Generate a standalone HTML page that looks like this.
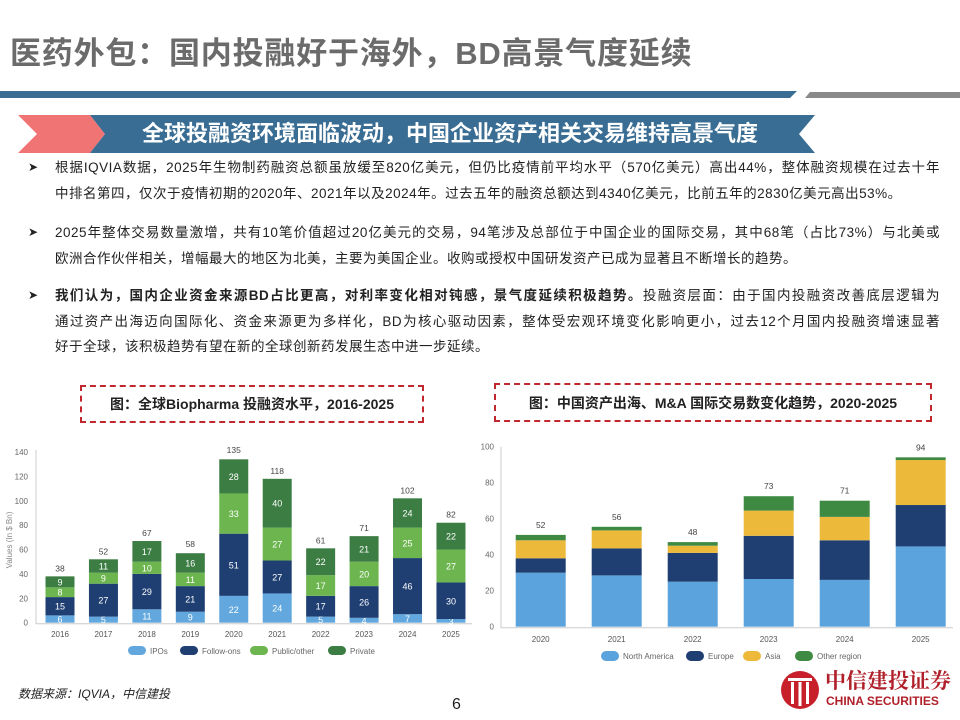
<!DOCTYPE html>
<html><head><meta charset="utf-8">
<style>
body{margin:0;width:960px;height:720px;background:#fff;overflow:hidden;position:relative;font-family:"Liberation Sans","Noto Sans CJK SC",sans-serif;}
.abs{position:absolute;}
.title{left:10px;top:28px;font-size:31px;font-weight:bold;color:#6b6b6b;letter-spacing:0.8px;}
.para{left:55px;font-size:13.5px;color:#222;line-height:25.5px;width:885px;letter-spacing:0.5px;}
.para div{white-space:nowrap;}
.para .j{text-align:justify;text-align-last:justify;}
.arrow{left:28px;font-size:12px;color:#222;}
.cap{border:2px dashed #c0282d;font-size:14px;font-weight:bold;color:#222;display:flex;align-items:center;justify-content:center;box-sizing:border-box;}
</style></head><body>
<div class="abs title">医药外包：国内投融好于海外，BD高景气度延续</div>
<svg class="abs" style="left:0;top:0" width="960" height="160">
<polygon points="0,91 797,91 790,98 0,98" fill="#3a6d93"/>
<polygon points="810,92 960,92 960,98 805,98" fill="#8a8a8a"/>
<polygon points="18,115 90,115 105,134 90,153 18,153 37,134" fill="#f07474"/>
<polygon points="90,115 815,115 799,134 815,153 90,153 105,134" fill="#3a6d93"/>
</svg>
<div class="abs" style="left:105px;top:117px;width:690px;text-align:center;font-size:22px;font-weight:bold;color:#fff;line-height:34px">全球投融资环境面临波动，中国企业资产相关交易维持高景气度</div>

<div class="abs arrow" style="top:160px">➤</div>
<div class="abs para" style="top:155px"><div class="j">根据IQVIA数据，2025年生物制药融资总额虽放缓至820亿美元，但仍比疫情前平均水平（570亿美元）高出44%，整体融资规模在过去十年</div><div>中排名第四，仅次于疫情初期的2020年、2021年以及2024年。过去五年的融资总额达到4340亿美元，比前五年的2830亿美元高出53%。</div></div>
<div class="abs arrow" style="top:225px">➤</div>
<div class="abs para" style="top:220px"><div class="j">2025年整体交易数量激增，共有10笔价值超过20亿美元的交易，94笔涉及总部位于中国企业的国际交易，其中68笔（占比73%）与北美或</div><div>欧洲合作伙伴相关，增幅最大的地区为北美，主要为美国企业。收购或授权中国研发资产已成为显著且不断增长的趋势。</div></div>
<div class="abs arrow" style="top:288px">➤</div>
<div class="abs para" style="top:283px"><div class="j"><b>我们认为，国内企业资金来源BD占比更高，对利率变化相对钝感，景气度延续积极趋势。</b>投融资层面：由于国内投融资改善底层逻辑为</div><div class="j">通过资产出海迈向国际化、资金来源更为多样化，BD为核心驱动因素，整体受宏观环境变化影响更小，过去12个月国内投融资增速显著</div><div>好于全球，该积极趋势有望在新的全球创新药发展生态中进一步延续。</div></div>

<div class="abs cap" style="left:80px;top:385px;width:344px;height:38px">图：全球Biopharma 投融资水平，2016-2025</div>
<div class="abs cap" style="left:494px;top:383px;width:438px;height:39px">图：中国资产出海、M&amp;A 国际交易数变化趋势，2020-2025</div>

<svg id="c1" class="abs" style="left:0;top:440px" width="480" height="225"></svg>
<svg id="c2" class="abs" style="left:480px;top:440px" width="480" height="230"></svg>

<div class="abs" style="left:18px;top:685px;font-size:12px;font-style:italic;color:#222">数据来源：IQVIA，中信建投</div>
<div class="abs" style="left:452px;top:696px;font-size:16px;color:#222">6</div>
<svg class="abs" style="left:780px;top:668px" width="40" height="44">
<circle cx="20" cy="22" r="19" fill="#c8202a"/><rect x="8" y="10" width="24" height="3" fill="#fff"/><rect x="11" y="14" width="3" height="22" fill="#fff"/><rect x="18.5" y="14" width="3" height="24" fill="#fff"/><rect x="26" y="14" width="3" height="22" fill="#fff"/>
</svg>
<div class="abs" style="left:825px;top:668px;font-size:21px;font-weight:bold;color:#b0202a;font-family:'Noto Serif CJK SC',serif;line-height:24px">中信建投证券</div>
<div class="abs" style="left:826px;top:694px;font-size:12px;font-weight:bold;color:#b0202a;letter-spacing:0px">CHINA SECURITIES</div>

<script>
const NS='http://www.w3.org/2000/svg';
function mk(p,tag,a,txt){const e=document.createElementNS(NS,tag);for(const k in a)e.setAttribute(k,a[k]);if(txt!==undefined)e.textContent=txt;p.appendChild(e);return e;}

// Chart 1 data
const years1=['2016','2017','2018','2019','2020','2021','2022','2023','2024','2025'];
const ipos=[6,5,11,9,22,24,5,4,7,3];
const followons=[15,27,29,21,51,27,17,26,46,30];
const publicOther=[8,9,10,11,33,27,17,20,25,27];
const privateV=[9,11,17,16,28,40,22,21,24,22];
const totals1=[38,52,67,58,135,118,61,71,102,82];
const ticks1=[0,20,40,60,80,100,120,140];
const series1Names=['IPOs','Follow-ons','Public/other','Private'];

// Chart 2 data
const years2=['2020','2021','2022','2023','2024','2025'];
const northAmerica=[30,28.5,25,26.5,26,44.6];
const europe=[8,15,16,24,22,23];
const asia=[10,10,4,14,13,25];
const otherRegion=[3,2,2,8,9,1.5];
const totals2=[52,56,48,73,71,94];
const ticks2=[0,20,40,60,80,100];
const series2Names=['North America','Europe','Asia','Other region'];

(function(){
 const s=document.getElementById('c1');
 const y0=182.7,k=170.7/140,x0=60,dx=43.44,bw=29;
 const Y=v=>y0-v*k, X=i=>x0+i*dx;
 const cols=['#62a8de','#1f3f73','#6cb54f','#3c7d44'];
 const data=[ipos,followons,publicOther,privateV];
 const t=mk(s,'text',{x:12,y:100,'font-size':8,fill:'#888','text-anchor':'middle',transform:'rotate(-90 12 100)'},'Values (In $ Bn)');
 
 ticks1.forEach(v=>{const e=mk(s,'text',{x:28,y:Y(v)+3,'font-size':8,fill:'#666','text-anchor':'end'},v);});
 mk(s,'path',{d:`M36,${Y(140)-2} V${y0+1} H472`,stroke:'#ccc',fill:'none','stroke-width':1});
 years1.forEach((yr,i)=>{
  let acc=0;
  data.forEach((arr,j)=>{
   const v=arr[i];
   const r=mk(s,'rect',{x:X(i)-bw/2,y:Y(acc+v),width:bw,height:v*k,fill:cols[j]});
   
   
   const l=mk(s,'text',{x:X(i),y:Y(acc+v/2)+3.5,'font-size':9,fill:'#fff','text-anchor':'middle'},v);
   
   acc+=v;
  });
  const tl=mk(s,'text',{x:X(i),y:Y(totals1[i])-5,'font-size':8.5,fill:'#444','text-anchor':'middle'},totals1[i]);
  
  const xl=mk(s,'text',{x:X(i),y:197,'font-size':8,fill:'#555','text-anchor':'middle'},yr);
  
 });
 const lx=[128,180,250,328];
 series1Names.forEach((n,j)=>{
  const r=mk(s,'rect',{x:lx[j],y:206,width:18,height:9,rx:4.5,fill:cols[j]});
  
  const e=mk(s,'text',{x:lx[j]+22,y:214,'font-size':8,fill:'#666'},n);
  
 });
})();

(function(){
 const s=document.getElementById('c2');
 const y0=186.7,k=1.8,x0=60.7,dx=76,bw=50;
 const Y=v=>y0-v*k, X=i=>x0+i*dx;
 const cols=['#5ba3dc','#1f3f73','#ecb93b','#3f8a43'];
 const data=[northAmerica,europe,asia,otherRegion];
 ticks2.forEach(v=>{const e=mk(s,'text',{x:14,y:Y(v)+3,'font-size':8,fill:'#666','text-anchor':'end'},v);});
 mk(s,'path',{d:`M21,${Y(100)} V${y0+1} H473`,stroke:'#ccc',fill:'none','stroke-width':1});
 years2.forEach((yr,i)=>{
  let acc=0;
  data.forEach((arr,j)=>{
   const v=arr[i];
   const r=mk(s,'rect',{x:X(i)-bw/2,y:Y(acc+v),width:bw,height:v*k,fill:cols[j]});
   
   
   acc+=v;
  });
  const tl=mk(s,'text',{x:X(i),y:Y(acc)-7,'font-size':8.5,fill:'#444','text-anchor':'middle'},totals2[i]);
  
  const xl=mk(s,'text',{x:X(i),y:202,'font-size':8,fill:'#555','text-anchor':'middle'},yr);
  
 });
 const lx=[121,206,263,315];
 series2Names.forEach((n,j)=>{
  const r=mk(s,'rect',{x:lx[j],y:211,width:18,height:10,rx:5,fill:cols[j]});
  
  const e=mk(s,'text',{x:lx[j]+22,y:219,'font-size':8,fill:'#666'},n);
  
 });
})();
</script>
</body></html>
